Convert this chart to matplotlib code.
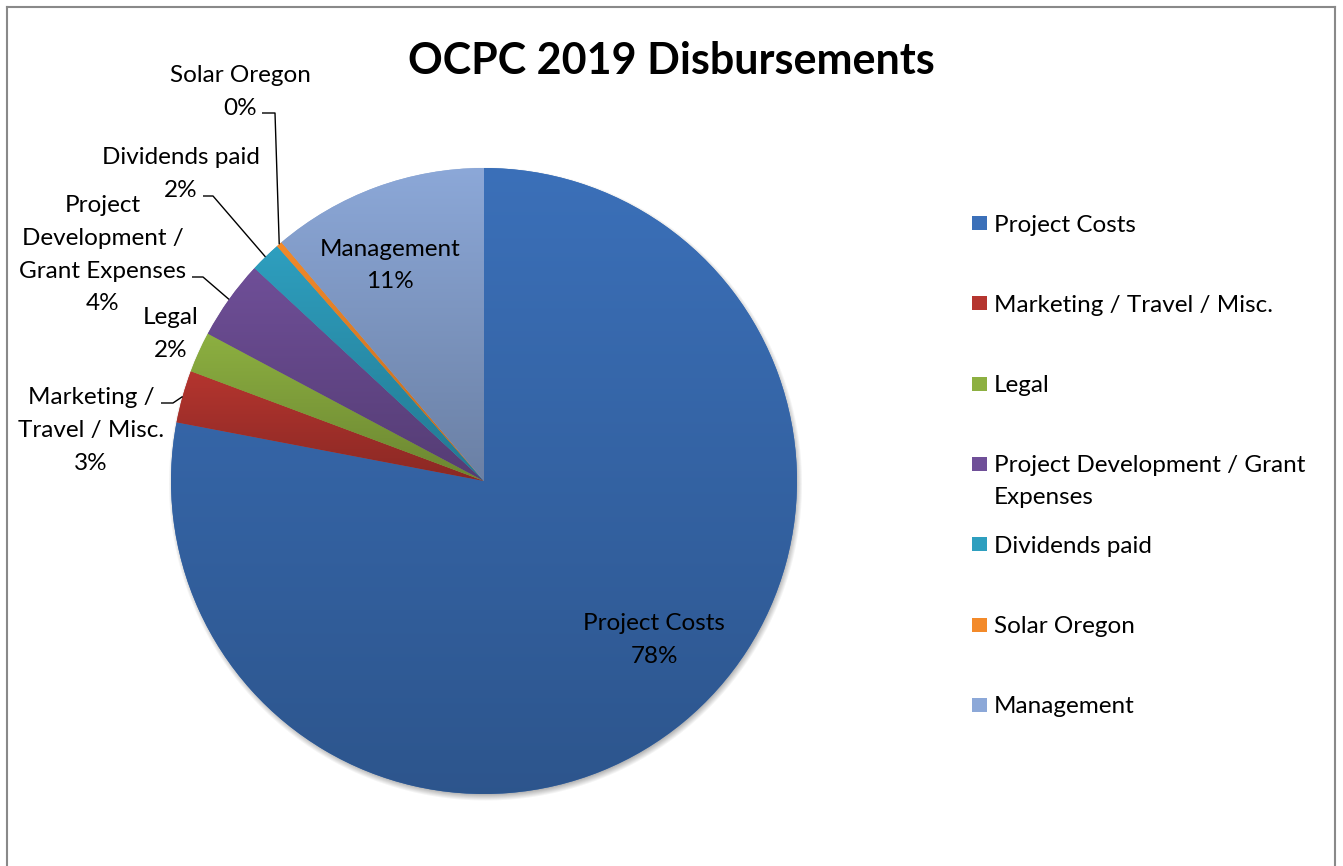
import numpy as np
import matplotlib
matplotlib.use("Agg")
import matplotlib.pyplot as plt
from matplotlib.patches import Rectangle
from matplotlib.colors import to_rgb

# ---------------- data ----------------
categories = ["Project Costs", "Marketing / Travel / Misc.", "Legal",
              "Project Development / Grant Expenses", "Dividends paid",
              "Solar Oregon", "Management"]
values = [78.0, 2.7, 2.1, 4.1, 1.6, 0.3, 11.2]
colors = ["#3B70B9", "#B5352F", "#8DB041", "#6F4F98", "#2E9FBF", "#F38A2A", "#8CA8D8"]
title = "OCPC 2019 Disbursements"
legend_labels = ["Project Costs", "Marketing / Travel / Misc.", "Legal",
                 "Project Development / Grant\nExpenses", "Dividends paid",
                 "Solar Oregon", "Management"]
# data-label texts (name part) as shown on the chart
label_names = ["Project Costs", "Marketing /\nTravel / Misc.", "Legal",
               "Project\nDevelopment /\nGrant Expenses", "Dividends paid",
               "Solar Oregon", "Management"]

W, H = 1343, 866
plt.rcParams['font.family'] = ['Lato', 'DejaVu Sans']
fig = plt.figure(figsize=(W / 100, H / 100), dpi=100)
ax = fig.add_axes([0, 0, 1, 1])

def Y(y):  # pixel y (from top) -> data y
    return H - y

cx, cy, R = 484, Y(481), 313

# shadow
xs = np.arange(150, 830)
ys = np.arange(Y(830), Y(150))
XX, YY = np.meshgrid(xs + 0.5, ys + 0.5)
d = np.hypot(XX - (cx + 1.5), YY - (cy - 3.0))
alpha = 0.55 * np.clip((R + 4 - d) / 7.0, 0, 1)
shadow = np.zeros(XX.shape + (4,))
shadow[..., :3] = 0.45
shadow[..., 3] = alpha
ax.imshow(shadow, extent=[xs[0], xs[-1] + 1, ys[0], ys[-1] + 1], origin='lower',
          zorder=1, interpolation='bilinear')

wedges, _ = ax.pie(values, colors=colors, startangle=90, counterclock=False,
                   center=(cx, cy), radius=R, wedgeprops=dict(linewidth=0))
for w in wedges:
    w.set_zorder(2)

# vertical gradient on each wedge (light top, darker bottom)
for w, c in zip(wedges, colors):
    ext = w.get_path().get_extents()
    base = np.array(to_rgb(c))
    t = np.linspace(0, 1, 256)[:, None]  # 0 bottom -> 1 top
    grad = base * (0.76 + 0.24 * t)
    img = grad[:, None, :]
    im = ax.imshow(img, extent=[ext.x0 - 1, ext.x1 + 1, ext.y0 - 1, ext.y1 + 1],
                   origin='lower', aspect='auto', zorder=3, interpolation='bilinear')
    im.set_clip_path(w)

ax.set_xlim(0, W)
ax.set_ylim(0, H)
ax.set_aspect('auto')
ax.axis('off')

pct = [f"{round(v / sum(values) * 100):.0f}%" for v in values]
fs = 17.5
lh = 32.5
dy = 2  # small vertical text offset

def multiline(x, ytop, lines, ha='center'):
    for i, s in enumerate(lines):
        ax.text(x, Y(ytop + i * lh + dy), s, ha=ha, va='center', fontsize=fs,
                color='black', zorder=5)

# label layout: (center x, first line y)
label_pos = {0: (654, 622), 1: (91, 396), 2: (171, 316), 3: (103, 204),
             4: (181, 156), 5: (240, 74), 6: (390, 247)}
# leader line elbows: (start x, elbow x, y)
leaders = {1: (161, 173, 403), 3: (192, 203, 277), 4: (203, 213, 196), 5: (262, 275, 113)}

for i, name in enumerate(label_names):
    x, y0 = label_pos[i]
    multiline(x, y0, name.split("\n") + [pct[i]])

theta = np.radians(90 - np.cumsum([0] + values[:-1]) / sum(values) * 360
                   - np.array(values) / sum(values) * 180)
for i, (xs0, xe, yl) in leaders.items():
    px = cx + R * np.cos(theta[i])
    py = cy + R * np.sin(theta[i])
    ax.plot([xs0, xe, px], [Y(yl), Y(yl), py], color='black', lw=1.0, zorder=6,
            solid_capstyle='butt')

# title
ax.text(671, Y(61), title, ha='center', va='center', fontsize=31, fontweight='bold',
        color='black', zorder=5)

# legend
for i, (lab, c) in enumerate(zip(legend_labels, colors)):
    yc = 223 + i * 80.3
    ax.add_patch(Rectangle((972, Y(yc + 7)), 15, 14, facecolor=c, edgecolor='none', zorder=5))
    lines = lab.split("\n")
    for j, s in enumerate(lines):
        ax.text(994, Y(yc + j * 32 + dy), s, ha='left', va='center', fontsize=fs,
                color='black', zorder=5)

# chart area border (top, left, right)
bc = '#898989'
ax.plot([7, 7], [0, Y(7)], color=bc, lw=1.5, zorder=7)
ax.plot([7, 1335], [Y(7), Y(7)], color=bc, lw=1.5, zorder=7)
ax.plot([1335, 1335], [0, Y(7)], color=bc, lw=1.5, zorder=7)

fig.savefig("out.png", dpi=100)
